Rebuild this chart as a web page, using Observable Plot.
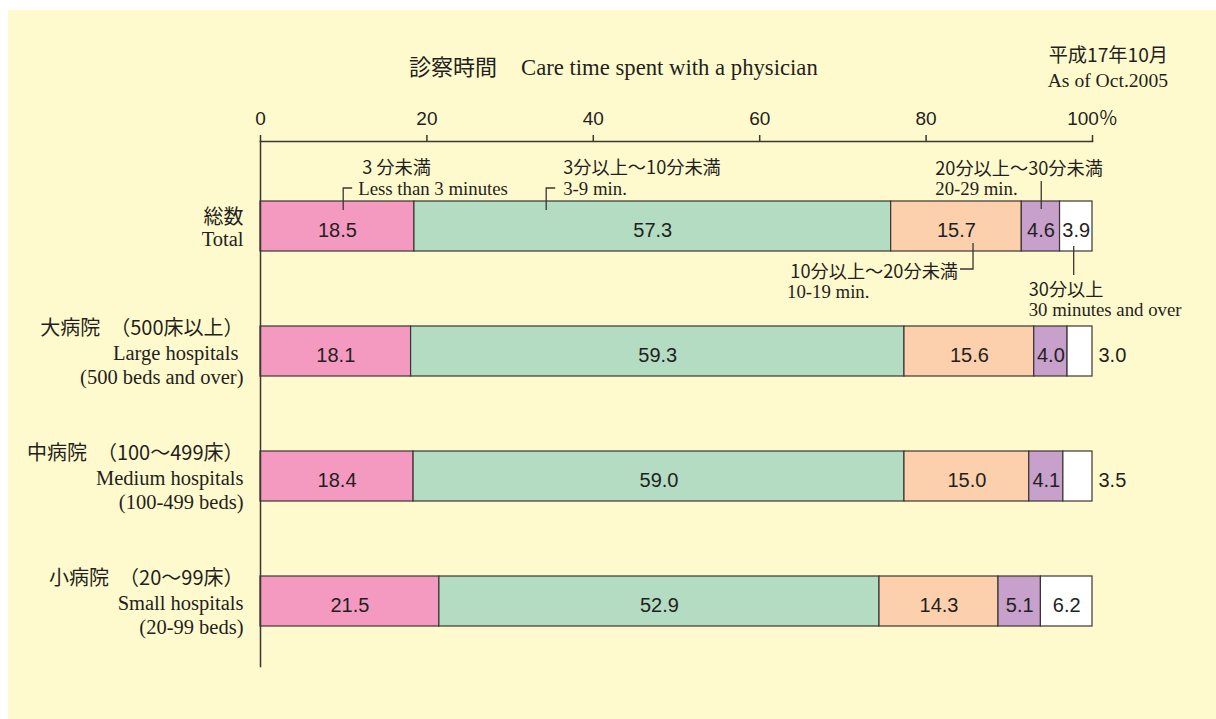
<!DOCTYPE html>
<html><head><meta charset="utf-8">
<script src="https://cdn.jsdelivr.net/npm/d3@7"></script>
<script src="https://cdn.jsdelivr.net/npm/@observablehq/plot@0.6"></script>
<style>
body{margin:0;background:#fff;}
#wrap{position:absolute;left:8px;top:10px;width:1208px;height:709px;background:#fffacd;overflow:hidden;}
#title{position:absolute;left:401px;top:43px;font-size:22px;line-height:24px;color:#231f20;white-space:nowrap;}
#title .en{margin-left:24px;font-size:22.7px;}
.jp{font-family:"Noto Sans CJK JP",sans-serif;}
.en{font-family:"Liberation Serif",serif;}
#date{position:absolute;right:48px;top:32px;text-align:right;color:#231f20;font-size:19.2px;line-height:25.5px;white-space:nowrap;}
#date .en{font-size:19.6px;}
#chart{position:absolute;left:0;top:0;}
</style>
</head><body>
<div id="wrap">
  <div id="title"><span class="jp">診察時間</span><span class="en">Care time spent with a physician</span></div>
  <div id="date"><div class="jp">平成17年10月</div><div class="en">As of Oct.2005</div></div>
  <div id="chart"></div>
</div>
<script>
const categories = ["総数", "大病院", "中病院", "小病院"];
const labelsJP = ["総数", "大病院\u2002（500床以上）", "中病院\u2002（100～499床）", "小病院\u2002（20～99床）"];
const labelsEN = ["Total", "Large hospitals\u00a0\n(500 beds and over)", "Medium hospitals\n(100-499 beds)", "Small hospitals\n(20-99 beds)"];
const segments = ["3分未満", "3分以上～10分未満", "10分以上～20分未満", "20分以上～30分未満", "30分以上"];
const segColors = ["#f49ac1", "#b3dcc3", "#fcd0ac", "#c7a0cb", "#ffffff"];
const lessThan3 = [18.5, 18.1, 18.4, 21.5];
const min3to9 = [57.3, 59.3, 59.0, 52.9];
const min10to19 = [15.7, 15.6, 15.0, 14.3];
const min20to29 = [4.6, 4.0, 4.1, 5.1];
const min30plus = [3.9, 3.0, 3.5, 6.2];
const xTicks = [0, 20, 40, 60, 80, 100];
const annoJP = ["3 分未満", "3分以上～10分未満", "10分以上～20分未満", "20分以上～30分未満", "30分以上"];
const annoEN = ["Less than 3 minutes", "3-9 min.", "10-19 min.", "20-29 min.", "30 minutes and over"];
const annoAt = [10, 34.4, 85.7, 93.9, 97.8];

const ink = "#231f20";
const line = "#3a3632";
const series = [lessThan3, min3to9, min10to19, min20to29, min30plus];
const rows = categories.flatMap((cat, i) => {
  let acc = 0;
  return segments.map((seg, j) => {
    const v = series[j][i];
    const r = {cat, seg, value: v, x1: acc, x2: acc + v, last: j === segments.length - 1};
    acc += v;
    return r;
  });
});
const outside = d => d.last && d.value < 3.7;
const catLabels = categories.map((cat, i) => ({cat, jp: labelsJP[i], en: labelsEN[i]}));

// annotation layout (pixel offsets relative to the scale positions)
const annoLayout = [
  {path: (p, b) => `M${p},${b + 9}V${b - 13}H${p + 9}`, jx: 19, jy: -34, ja: "start", ex: 15, ey: -12},
  {path: (p, b) => `M${p},${b + 9}V${b - 13}H${p + 9}`, jx: 17, jy: -34, ja: "start", ex: 17, ey: -12},
  {path: (p, b) => `M${p},${b + 42}V${b + 68}H${p - 13}`, jx: -15, jy: 70, ja: "end", ex: -186, ey: 91},
  {path: (p, b) => `M${p},${b - 20}V${b + 8}`, jx: -106, jy: -33, ja: "start", ex: -106, ey: -12.5},
  {path: (p, b) => `M${p},${b + 45}V${b + 74}`, jx: -45, jy: 88, ja: "start", ex: -45, ey: 108.5}
];

function annotations(index, scales) {
  const g = d3.create("svg:g");
  const bt = scales.y(categories[0]);
  annoAt.forEach((v, i) => {
    const p = scales.x(v);
    const L = annoLayout[i];
    g.append("path").attr("d", L.path(p, bt)).attr("fill", "none").attr("stroke", line).attr("stroke-width", 1.3);
    g.append("text").attr("x", p + L.jx).attr("y", bt + L.jy).attr("dy", "0.37em")
      .attr("text-anchor", L.ja).attr("font-family", '"Noto Sans CJK JP", sans-serif')
      .attr("font-size", 18.2).attr("fill", ink).text(annoJP[i]);
    g.append("text").attr("x", p + L.ex).attr("y", bt + L.ey).attr("dy", "0.34em")
      .attr("text-anchor", "start").attr("font-family", '"Liberation Serif", serif')
      .attr("font-size", 18.8).attr("fill", ink).text(annoEN[i]);
  });
  return g.node();
}

const serif = '"Liberation Serif", serif';
const jpFont = '"Noto Sans CJK JP", sans-serif';
const sans = '"Liberation Sans", "Noto Sans CJK JP", sans-serif';

const chart = Plot.plot({
  width: 1208,
  height: 709,
  marginLeft: 252,
  marginRight: 124,
  marginTop: 131,
  marginBottom: 53,
  style: {background: "transparent", color: ink, fontFamily: sans},
  x: {domain: [0, 100], axis: null},
  y: {domain: categories, axis: null, paddingInner: 0.6, paddingOuter: 0.4, align: 0.6},
  color: {domain: segments, range: segColors},
  marks: [
    Plot.barX(rows, {x1: "x1", x2: "x2", y: "cat", fill: "seg", stroke: line, strokeWidth: 1.2}),
    Plot.text(rows.filter(d => !outside(d)), {x: d => (d.x1 + d.x2) / 2, y: "cat", text: d => d.value.toFixed(1), fontSize: 20, fontFamily: sans, fill: ink, dy: 4}),
    Plot.text(rows.filter(outside), {x: "x2", y: "cat", text: d => d.value.toFixed(1), fontSize: 20, fontFamily: sans, fill: ink, dy: 4, dx: 6, textAnchor: "start"}),
    Plot.axisX({anchor: "top", ticks: xTicks, tickSize: 7, tickPadding: 10, tickFormat: d => d === 100 ? "100％" : String(d), fontSize: 19, fontFamily: sans, stroke: line, strokeWidth: 1.5, fill: ink}),
    Plot.frame({anchor: "top", stroke: line, strokeWidth: 1.5}),
    Plot.frame({anchor: "left", stroke: line, strokeWidth: 1.5}),
    Plot.text(catLabels.filter(d => d.cat === categories[0]), {y: "cat", text: "jp", frameAnchor: "left", textAnchor: "end", dx: -17, dy: -9, fontSize: 20, fontFamily: jpFont, fill: ink}),
    Plot.text(catLabels.filter(d => d.cat === categories[0]), {y: "cat", text: "en", frameAnchor: "left", textAnchor: "end", dx: -17, dy: 13, fontSize: 20.5, fontFamily: serif, fill: ink}),
    Plot.text(catLabels.filter(d => d.cat !== categories[0]), {y: "cat", text: "jp", frameAnchor: "left", textAnchor: "end", dx: -17, dy: -23, fontSize: 20, fontFamily: jpFont, fill: ink}),
    Plot.text(catLabels.filter(d => d.cat !== categories[0]), {y: "cat", text: "en", frameAnchor: "left", textAnchor: "end", dx: -17, dy: 12.5, lineHeight: 1.17, fontSize: 20.5, fontFamily: serif, fill: ink}),
    annotations
  ]
});
document.getElementById("chart").appendChild(chart);
</script>
</body></html>
